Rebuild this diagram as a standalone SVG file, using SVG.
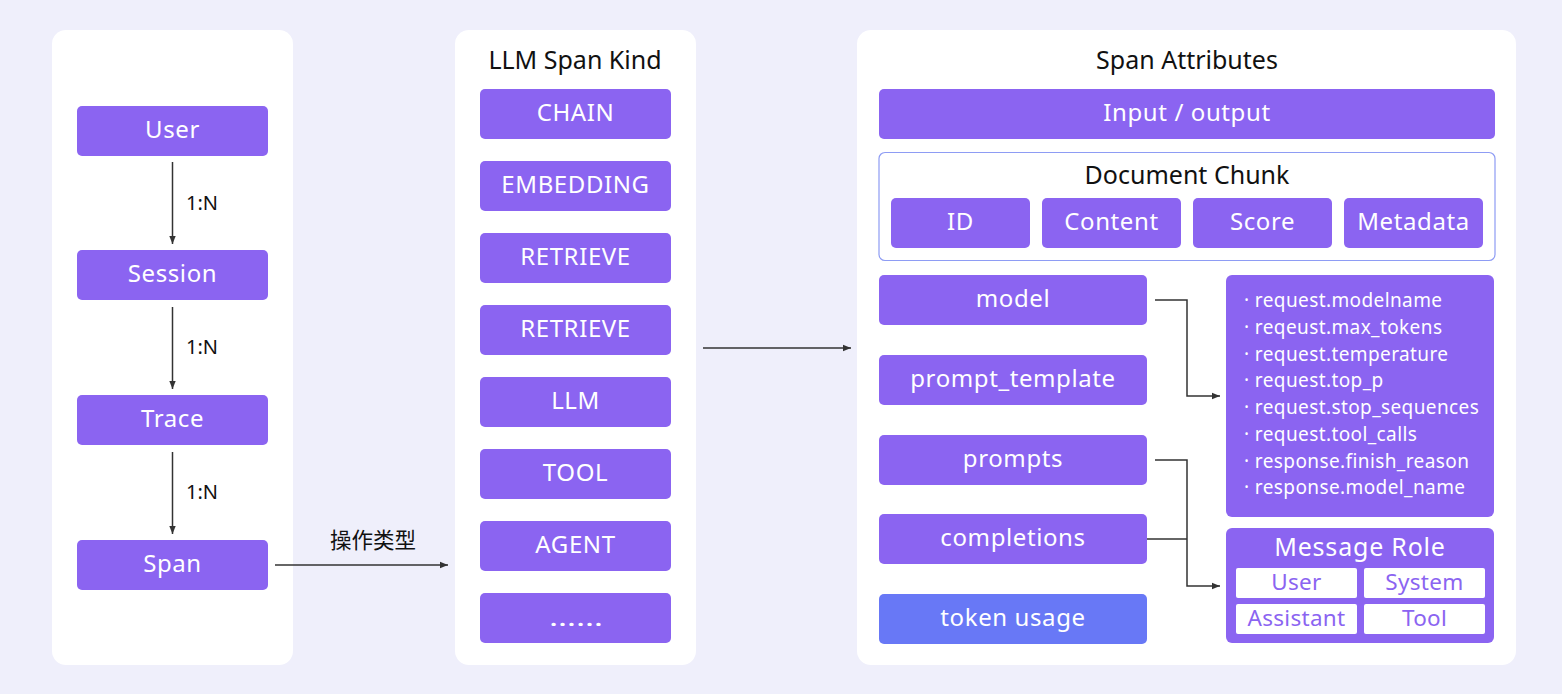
<svg xmlns="http://www.w3.org/2000/svg" width="1562" height="694" viewBox="0 0 1562 694">
<defs>
<marker id="arr" viewBox="0 0 10 10" refX="10" refY="5" markerWidth="8" markerHeight="8" markerUnits="userSpaceOnUse" orient="auto"><path d="M0,1 L10,5 L0,9 z" fill="#333"/></marker>
<style>
.panel{fill:#fff}
.box{fill:#8B64F1}
.blue{fill:#6878F6}
.lbl{font-family:"Noto Sans","Open Sans",sans-serif;font-size:24px;letter-spacing:0.6px;fill:#fff;text-anchor:middle;dominant-baseline:central}
.dots{letter-spacing:0}
.title{font-family:"Noto Sans","Open Sans",sans-serif;font-size:25px;fill:#111;text-anchor:middle;dominant-baseline:central}
.note{font-family:"Noto Sans","Open Sans",sans-serif;font-size:20px;fill:#111;dominant-baseline:central}
.cjk{font-family:"Noto Sans CJK SC",sans-serif;font-size:21.5px;fill:#111;text-anchor:middle;dominant-baseline:central}
.attr{font-family:"Noto Sans","Open Sans",sans-serif;font-size:19px;letter-spacing:0.4px;fill:#fff;dominant-baseline:central}
.role{font-family:"Noto Sans","Open Sans",sans-serif;font-size:22.5px;letter-spacing:0.3px;fill:#8B64F1;text-anchor:middle;dominant-baseline:central}
.mr{font-family:"Noto Sans","Open Sans",sans-serif;font-size:25px;letter-spacing:0.8px;fill:#fff;text-anchor:middle;dominant-baseline:central}
.wbox{fill:#fff}
.line{fill:none;stroke:#333;stroke-width:1.5}
</style>
</defs>
<rect width="1562" height="694" fill="#EFEFFB"/>
<rect class="panel" x="52" y="30" width="241" height="635" rx="14"/>
<rect class="panel" x="455" y="30" width="241" height="635" rx="14"/>
<rect class="panel" x="857" y="30" width="659" height="635" rx="14"/>

<g id="user"><rect class="box" x="77" y="106" width="191" height="50" rx="5"/><text class="lbl" x="172.5" y="128">User</text></g>
<g id="session"><rect class="box" x="77" y="250" width="191" height="50" rx="5"/><text class="lbl" x="172.5" y="272">Session</text></g>
<g id="trace"><rect class="box" x="77" y="395" width="191" height="50" rx="5"/><text class="lbl" x="172.5" y="417">Trace</text></g>
<g id="span"><rect class="box" x="77" y="540" width="191" height="50" rx="5"/><text class="lbl" x="172.5" y="562">Span</text></g>

<g id="kind-title"><text class="title" x="575" y="59">LLM Span Kind</text></g>
<g id="chain"><rect class="box" x="480" y="89" width="191" height="50" rx="5"/><text class="lbl" x="575.5" y="111">CHAIN</text></g>
<g id="embedding"><rect class="box" x="480" y="161" width="191" height="50" rx="5"/><text class="lbl" x="575.5" y="183">EMBEDDING</text></g>
<g id="retrieve1"><rect class="box" x="480" y="233" width="191" height="50" rx="5"/><text class="lbl" x="575.5" y="255">RETRIEVE</text></g>
<g id="retrieve2"><rect class="box" x="480" y="305" width="191" height="50" rx="5"/><text class="lbl" x="575.5" y="327">RETRIEVE</text></g>
<g id="llm"><rect class="box" x="480" y="377" width="191" height="50" rx="5"/><text class="lbl" x="575.5" y="399">LLM</text></g>
<g id="tool"><rect class="box" x="480" y="449" width="191" height="50" rx="5"/><text class="lbl" x="575.5" y="471">TOOL</text></g>
<g id="agent"><rect class="box" x="480" y="521" width="191" height="50" rx="5"/><text class="lbl" x="575.5" y="543">AGENT</text></g>
<g id="more"><rect class="box" x="480" y="593" width="191" height="50" rx="5"/><text class="lbl dots" x="576" y="616" textLength="54" lengthAdjust="spacingAndGlyphs">……</text></g>

<g id="attr-title"><text class="title" x="1187" y="59">Span Attributes</text></g>
<g id="io"><rect class="box" x="879" y="89" width="616" height="50" rx="5"/><text class="lbl" x="1187" y="111">Input / output</text></g>
<g id="docchunk">
<rect x="879" y="152.5" width="616" height="108" rx="6" fill="#fff" stroke="#8E9CF4" stroke-width="1.2"/>
<text class="title" x="1187" y="174">Document Chunk</text>
<rect class="box" x="891" y="198" width="139" height="50" rx="5"/><text class="lbl" x="960.5" y="220">ID</text>
<rect class="box" x="1042" y="198" width="139" height="50" rx="5"/><text class="lbl" x="1111.5" y="220">Content</text>
<rect class="box" x="1193" y="198" width="139" height="50" rx="5"/><text class="lbl" x="1262.5" y="220">Score</text>
<rect class="box" x="1344" y="198" width="139" height="50" rx="5"/><text class="lbl" x="1413.5" y="220">Metadata</text>
</g>
<g id="model"><rect class="box" x="879" y="275" width="268" height="50" rx="5"/><text class="lbl" x="1013" y="297">model</text></g>
<g id="prompt_template"><rect class="box" x="879" y="355" width="268" height="50" rx="5"/><text class="lbl" x="1013" y="377">prompt_template</text></g>
<g id="prompts"><rect class="box" x="879" y="435" width="268" height="50" rx="5"/><text class="lbl" x="1013" y="457">prompts</text></g>
<g id="completions"><rect class="box" x="879" y="514" width="268" height="50" rx="5"/><text class="lbl" x="1013" y="536">completions</text></g>
<g id="token_usage"><rect class="blue" x="879" y="594" width="268" height="50" rx="5"/><text class="lbl" x="1013" y="616">token usage</text></g>

<g id="model-attrs">
<rect class="box" x="1226" y="275" width="268" height="242" rx="6"/>
<text class="attr" x="1244" y="300">· request.modelname</text>
<text class="attr" x="1244" y="327">· reqeust.max_tokens</text>
<text class="attr" x="1244" y="354">· request.temperature</text>
<text class="attr" x="1244" y="380">· request.top_p</text>
<text class="attr" x="1244" y="407">· request.stop_sequences</text>
<text class="attr" x="1244" y="434">· request.tool_calls</text>
<text class="attr" x="1244" y="461">· response.finish_reason</text>
<text class="attr" x="1244" y="487">· response.model_name</text>
</g>
<g id="message-role">
<rect class="box" x="1226" y="528" width="268" height="115" rx="6"/>
<text class="mr" x="1360" y="546">Message Role</text>
<rect class="wbox" x="1236" y="568" width="121" height="30" rx="2"/><text class="role" x="1296.5" y="581">User</text>
<rect class="wbox" x="1364" y="568" width="121" height="30" rx="2"/><text class="role" x="1424.5" y="581">System</text>
<rect class="wbox" x="1236" y="604" width="121" height="30" rx="2"/><text class="role" x="1296.5" y="617">Assistant</text>
<rect class="wbox" x="1364" y="604" width="121" height="30" rx="2"/><text class="role" x="1424.5" y="617">Tool</text>
</g>

<g id="connectors">
<line class="line" x1="172.5" y1="162" x2="172.5" y2="244" marker-end="url(#arr)"/>
<line class="line" x1="172.5" y1="307" x2="172.5" y2="389" marker-end="url(#arr)"/>
<line class="line" x1="172.5" y1="452" x2="172.5" y2="534" marker-end="url(#arr)"/>
<text class="note" x="186" y="202">1:N</text>
<text class="note" x="186" y="346">1:N</text>
<text class="note" x="186" y="491">1:N</text>
<line class="line" x1="275" y1="565" x2="448" y2="565" marker-end="url(#arr)"/>
<text class="cjk" x="373" y="538">操作类型</text>
<line class="line" x1="703" y1="348" x2="851" y2="348" marker-end="url(#arr)"/>
<polyline class="line" points="1155,300 1187,300 1187,396 1220,396" marker-end="url(#arr)"/>
<polyline class="line" points="1155,460 1187,460 1187,586 1220,586" marker-end="url(#arr)"/>
<line class="line" x1="1147" y1="539" x2="1187" y2="539"/>
</g>
</svg>
